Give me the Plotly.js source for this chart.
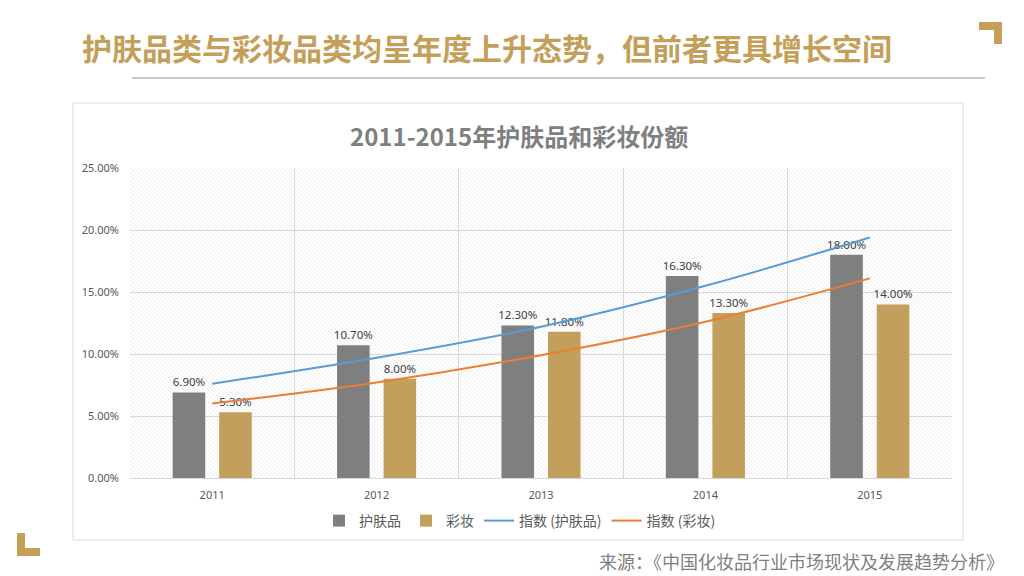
<!DOCTYPE html>
<html>
<head>
<meta charset="utf-8">
<script src="https://cdn.plot.ly/plotly-3.0.1.min.js"></script>
<style>
  html, body { margin: 0; padding: 0; background: #ffffff; }
  #chart { width: 1024px; height: 576px; }
</style>
</head>
<body>
<div id="chart"></div>
<script>
// ---- data ----
const years = ['2011', '2012', '2013', '2014', '2015'];
const skincare = [6.9, 10.7, 12.3, 16.3, 18.0];
const makeup = [5.3, 8.0, 11.8, 13.3, 14.0];
const trendSkincare = [7.6, 9.7, 12.2, 15.5, 19.4];
const trendMakeup = [6.0, 7.7, 9.9, 12.6, 16.1];
const seriesNames = ['护肤品', '彩妆', '指数 (护肤品)', '指数 (彩妆)'];
const yTicks = [0, 5, 10, 15, 20, 25];
const pageTitle = '护肤品类与彩妆品类均呈年度上升态势，但前者更具增长空间';
const chartTitle = '2011-2015年护肤品和彩妆份额';
const sourceText = '来源：《中国化妆品行业市场现状及发展趋势分析》';

// ---- layout helpers ----
const W = 1024, H = 576;
const mL = 130, mR = 72, mT = 168, mB = 98;
const pw = W - mL - mR, ph = H - mT - mB;
const px = x => (x - mL) / pw;
const py = y => (H - mB - y) / ph;

const gold = '#c49f5a';
const cjk = '"Noto Sans CJK SC", "Noto Sans", sans-serif';
const num = '"Noto Sans", "Noto Sans CJK SC", sans-serif';

// hatched background for plot area
const hatch = `<svg xmlns="http://www.w3.org/2000/svg" width="${pw}" height="${ph}">
<defs><pattern id="p" width="4" height="4" patternUnits="userSpaceOnUse">
<path d="M-1,-1 L5,5 M-1,3 L1,5 M3,-1 L5,1" stroke="#ececec" stroke-width="1"/></pattern></defs>
<rect width="100%" height="100%" fill="#ffffff"/>
<rect width="100%" height="100%" fill="url(#p)"/></svg>`;
const hatchSrc = 'data:image/svg+xml;charset=utf-8,' + encodeURIComponent(hatch);

const labelFont = { family: num, size: 11.5, color: '#404040' };

const traces = [
  {
    type: 'bar', name: seriesNames[0], x: years, y: skincare,
    marker: { color: '#7f7f7f' },
    text: skincare.map(v => v.toFixed(2) + '%'),
    textposition: 'outside', cliponaxis: false, constraintext: 'none',
    textfont: labelFont, outsidetextfont: labelFont,
    hoverinfo: 'skip'
  },
  {
    type: 'bar', name: seriesNames[1], x: years, y: makeup,
    marker: { color: '#c29f5c' },
    text: makeup.map(v => v.toFixed(2) + '%'),
    textposition: 'outside', cliponaxis: false, constraintext: 'none',
    textfont: labelFont, outsidetextfont: labelFont,
    hoverinfo: 'skip'
  },
  {
    type: 'scatter', mode: 'lines', name: seriesNames[2], x: years, y: trendSkincare,
    line: { color: '#5b9bd5', width: 2, shape: 'spline', smoothing: 1 },
    hoverinfo: 'skip'
  },
  {
    type: 'scatter', mode: 'lines', name: seriesNames[3], x: years, y: trendMakeup,
    line: { color: '#ed7d31', width: 2, shape: 'spline', smoothing: 1 },
    hoverinfo: 'skip'
  }
];

const layout = {
  width: W, height: H,
  margin: { l: mL, r: mR, t: mT, b: mB, pad: 0 },
  paper_bgcolor: '#ffffff',
  plot_bgcolor: '#ffffff',
  showlegend: true,
  barmode: 'group',
  bargap: 0.434,
  bargroupgap: 0.30,
  font: { family: cjk, color: '#595959' },
  xaxis: {
    type: 'category',
    tickson: 'boundaries',
    showgrid: true, gridcolor: '#d9d9d9', gridwidth: 1,
    showline: true, linecolor: '#d9d9d9', linewidth: 1,
    ticks: '', ticklen: 0,
    ticklabelstandoff: 7,
    tickfont: { family: num, size: 11, color: '#595959' },
    fixedrange: true
  },
  yaxis: {
    range: [0, 25],
    tickvals: yTicks,
    ticktext: yTicks.map(v => v.toFixed(2) + '%'),
    showgrid: true, gridcolor: '#d9d9d9', gridwidth: 1,
    zeroline: false, showline: false,
    ticks: '', ticklen: 0,
    ticklabelstandoff: 10,
    tickfont: { family: num, size: 11, color: '#595959' },
    fixedrange: true
  },
  legend: {
    orientation: 'h',
    x: px(520), xanchor: 'center',
    y: py(521), yanchor: 'middle',
    font: { family: cjk, size: 14, color: '#595959' },
    bgcolor: 'rgba(0,0,0,0)',
    itemwidth: 30,
    traceorder: 'normal'
  },
  images: [{
    source: hatchSrc, xref: 'paper', yref: 'paper',
    x: 0, y: 1, sizex: 1, sizey: 1, xanchor: 'left', yanchor: 'top',
    sizing: 'stretch', layer: 'below'
  }],
  shapes: [
    // chart frame
    { type: 'rect', xref: 'paper', yref: 'paper', x0: px(73), x1: px(963), y0: py(103), y1: py(540),
      line: { color: '#d9d9d9', width: 1 }, fillcolor: 'rgba(0,0,0,0)', layer: 'below' },
    // title underline
    { type: 'line', xref: 'paper', yref: 'paper', x0: px(132), x1: px(985), y0: py(78), y1: py(78),
      line: { color: '#b4b4b4', width: 1.5 } },
    // top-right bracket
    { type: 'rect', xref: 'paper', yref: 'paper', x0: px(979), x1: px(1002), y0: py(22), y1: py(30),
      line: { width: 0 }, fillcolor: gold },
    { type: 'rect', xref: 'paper', yref: 'paper', x0: px(994), x1: px(1002), y0: py(22), y1: py(44),
      line: { width: 0 }, fillcolor: gold },
    // bottom-left bracket
    { type: 'rect', xref: 'paper', yref: 'paper', x0: px(17), x1: px(25), y0: py(533), y1: py(556),
      line: { width: 0 }, fillcolor: gold },
    { type: 'rect', xref: 'paper', yref: 'paper', x0: px(17), x1: px(40), y0: py(548), y1: py(556),
      line: { width: 0 }, fillcolor: gold }
  ],
  annotations: [
    { text: '<b>' + pageTitle + '</b>', xref: 'paper', yref: 'paper',
      x: px(80), y: py(47), xanchor: 'left', yanchor: 'middle', showarrow: false,
      font: { family: cjk, size: 30, color: '#c49f5a' } },
    { text: '<b>' + chartTitle + '</b>', xref: 'paper', yref: 'paper',
      x: px(519), y: py(135), xanchor: 'center', yanchor: 'middle', showarrow: false,
      font: { family: cjk, size: 24, color: '#7f7f7f' } },
    { text: sourceText, xref: 'paper', yref: 'paper',
      x: px(1006), y: py(561), xanchor: 'right', yanchor: 'middle', showarrow: false,
      font: { family: cjk, size: 18, color: '#7f7f7f' } }
  ]
};

Plotly.newPlot('chart', traces, layout, { staticPlot: true, displayModeBar: false });
</script>
</body>
</html>
